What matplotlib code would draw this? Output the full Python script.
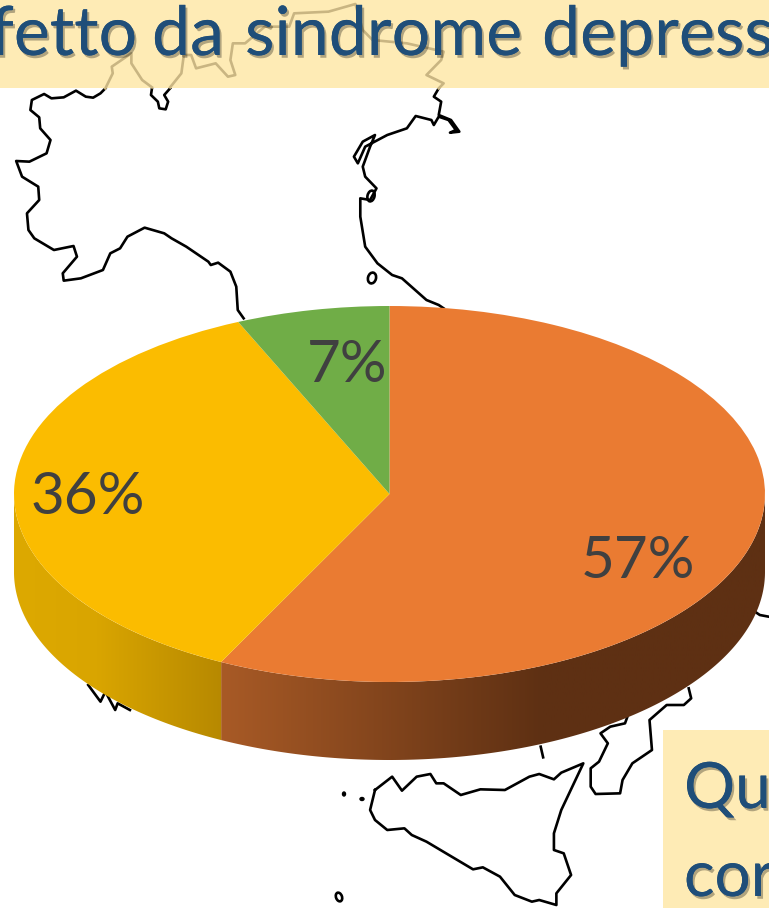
# Slide crop: 3D style pie over a map outline of Italy
import numpy as np
import matplotlib
matplotlib.use("Agg")
import matplotlib.pyplot as plt
import matplotlib.patheffects as pe
from matplotlib.colors import LinearSegmentedColormap
from matplotlib.patches import Ellipse, Polygon, Rectangle

plt.rcParams['font.family'] = ['Lato', 'DejaVu Sans']

# --- Data ---
SHARES = [57.4, 36.0, 6.6]
PIE_LABELS = ["57%", "36%", "7%"]
PIE_COLORS = ["#EA7B32", "#FBBC00", "#70AD47"]
TITLE_WORDS = ["fetto", "da", "sindrome", "depress"]
TITLE_X = [-10, 152, 245, 542]
BOX_LINES = ["Qu", "cor"]

NORTH_WEST = [(215,265),(205,280),(190,293),(175,290),(155,272),(130,292),(105,295),(90,282),(65,300),
              (62,330),(80,352),(82,385),(103,420),(95,460),(60,485),(33,483),(45,530),(78,560),(80,600),
              (55,640),(58,690),(70,715),(110,750),(150,738),(157,770),(128,820),(130,842),(165,835),
              (210,810),(225,760),(245,745),(260,710),(295,683),(335,700),(350,715),(380,740),(425,785),
              (430,795),(445,788),(470,815),(482,860),(485,930),(497,955)]
LAKE_INLET = [(310,265),(308,285),(322,305),(325,325),(338,328),(343,305),(335,285),(347,265)]
NORTH_EAST = [(895,265),(885,290),(900,305),(895,345),(920,360),(937,395),(918,398),(930,390),(915,360),
              (895,350),(885,375),(880,360),(848,348),(830,385),(790,405),(745,440),(730,490),(722,470),
              (740,425),(765,405),(755,440),(740,500),(745,530),(768,565),(755,600),(735,595),(735,650),
              (745,740),(770,790),(800,825),(820,835),(870,900),(895,915),(905,925)]
FADED_A = [(215,265),(230,220),(228,200),(268,160),(268,190),(290,240),(310,262)]
FADED_B = [(347,262),(370,220),(375,165),(390,165),(400,205),(440,190),(465,230),(480,225),(470,180),
           (475,130),(500,130),(540,80),(590,80),(600,40),(670,35),(725,12),(740,90),(760,120),(830,130),
           (905,155),(900,180),(870,225),(905,250),(895,265)]
SICILY = [(765,510),(800,470),(820,512),(850,470),(878,462),(890,490),(905,490),(940,525),(980,508),
          (1030,510),(1080,470),(1100,462),(1130,478),(1145,458),(1190,430),(1145,570),(1130,640),
          (1130,690),(1150,700),(1165,765),(1135,820),(1135,855),(1100,840),(1085,845),(1050,825),
          (1020,770),(985,742),(965,748),(910,700),(870,665),(840,645),(825,625),(790,630),(765,600),
          (755,570),(765,510)]
CALABRIA = [(1405,205),(1410,235),(1395,255),(1360,255),(1325,300),(1330,390),(1290,430),(1270,480),
            (1265,520),(1215,522),(1205,500),(1205,445),(1222,425),(1240,370),(1225,340),(1245,320),
            (1275,310),(1280,290)]
PUGLIA = [(180,195),(190,215),(205,245),(215,215),(235,270),(240,250),(265,270)]
ISLET = [(1103,380),(1108,412)]
EDGE_BIT = [(1535,-30),(1550,-15),(1568,-10)]

# --- Layout in pixels ---
W, H = 769, 909
CX, CY, RX, RY, DEPTH = 389.5, 494, 375.5, 188, 78


def top_crop(pts):
    return [(x / 2.04, y / 3) for x, y in pts]


def low_crop(pts):
    return [(x / 2.04, y / 3 + 620) for x, y in pts]


def draw_path(ax, pts, color="black", lw=1.9):
    xs, ys = zip(*pts)
    ax.plot(xs, ys, color=color, lw=lw, solid_joinstyle="round")


def shadow():
    return [pe.withSimplePatchShadow(offset=(1.5, -2), shadow_rgbFace="#000000", alpha=0.3), pe.Normal()]


fig = plt.figure(figsize=(W / 100, H / 100), dpi=100)
ax = fig.add_axes([0, 0, 1, 1])
ax.set_xlim(0, W)
ax.set_ylim(H, 0)
ax.axis("off")

# --- Map ---
for pts in (NORTH_WEST, LAKE_INLET, NORTH_EAST):
    draw_path(ax, top_crop(pts))
for pts in (SICILY, CALABRIA, PUGLIA, ISLET, EDGE_BIT):
    draw_path(ax, low_crop(pts))
ax.add_patch(Ellipse((372, 278), 8, 11, angle=15, fill=False, ec="black", lw=1.9))
ax.add_patch(Ellipse((371, 196), 7, 11, angle=15, fill=False, ec="black", lw=1.9))
ax.add_patch(Ellipse((339, 897), 6, 9, angle=-20, fill=False, ec="black", lw=1.9))
ax.add_patch(Ellipse((344, 794), 3, 4, color="black"))
ax.add_patch(Ellipse((362, 799), 4, 3, color="black"))

# --- Title bar and lower box ---
ax.add_patch(Rectangle((0, 0), W, 87.5, fc="#FEEBB5", ec="none", zorder=3))
ax.add_patch(Rectangle((663, 730), W - 663, 178, fc="#FEEBB5", ec="none", zorder=3))
for pts in (FADED_A, FADED_B):
    xs, ys = zip(*top_crop(pts))
    ax.plot(xs, ys, color="#C9B582", lw=1.9, zorder=4)
for word, wx in zip(TITLE_WORDS, TITLE_X):
    ax.text(wx, 55, word, fontsize=49, color="#1F4E79", va="baseline", ha="left", zorder=5,
            path_effects=shadow())
ax.text(684, 808, BOX_LINES[0], fontsize=46, color="#1F4E79", va="baseline", ha="left", zorder=5,
        path_effects=shadow())
ax.text(684, 896, BOX_LINES[1], fontsize=46, color="#1F4E79", va="baseline", ha="left", zorder=5,
        path_effects=shadow())

# --- Pie: squashed axes so the circle becomes the top ellipse ---
pie_ax = fig.add_axes([(CX - RX) / W, 1 - (CY + RY + DEPTH) / H, 2 * RX / W, (2 * RY + DEPTH) / H])
pie_ax.patch.set_visible(False)
wedges, _ = pie_ax.pie(SHARES, colors=PIE_COLORS, startangle=90, counterclock=False, radius=1,
                       wedgeprops={"linewidth": 0})
for w in wedges:
    w.set_zorder(3)

drop = DEPTH / RY
total = sum(SHARES)
edges = 90 - 360 * np.cumsum([0] + SHARES) / total

# side wall: gradient images clipped to the visible lower part of each slice
wall_stops = [
    [(0.0, "#A85A26"), (0.59, "#5E3013"), (1.0, "#5E3013")],
    [(0.0, "#DDA900"), (0.4, "#D9A500"), (1.0, "#B78900")],
]
for i, stops in enumerate(wall_stops):
    a0, a1 = max(edges[i + 1], -180), min(edges[i], 0)
    t = np.radians(np.linspace(a0, a1, 200))
    x, y = np.cos(t), np.sin(t)
    outline = np.r_[np.c_[x, y], np.c_[x[::-1], y[::-1] - drop]]
    poly = Polygon(outline, closed=True, transform=pie_ax.transData, fc="none", ec="none")
    pie_ax.add_patch(poly)
    cmap = LinearSegmentedColormap.from_list(f"wall{i}", stops)
    img = pie_ax.imshow(np.linspace(0, 1, 256)[None, :], cmap=cmap, aspect="auto", zorder=1,
                        extent=[x.min(), x.max(), -1 - drop, 1])
    img.set_clip_path(poly)

pie_ax.set_aspect("auto")
pie_ax.set_xlim(-1, 1)
pie_ax.set_ylim(-1 - drop, 1)
pie_ax.axis("off")

# --- Percent labels ---
label_pos = [(638, 562), (88, 497), (347, 366)]
for text, (lx, ly) in zip(PIE_LABELS, label_pos):
    pie_ax.text(lx, ly, text, transform=ax.transData, fontsize=42, color="#404040",
                ha="center", va="center", zorder=6)

fig.savefig("out.png", dpi=100)
